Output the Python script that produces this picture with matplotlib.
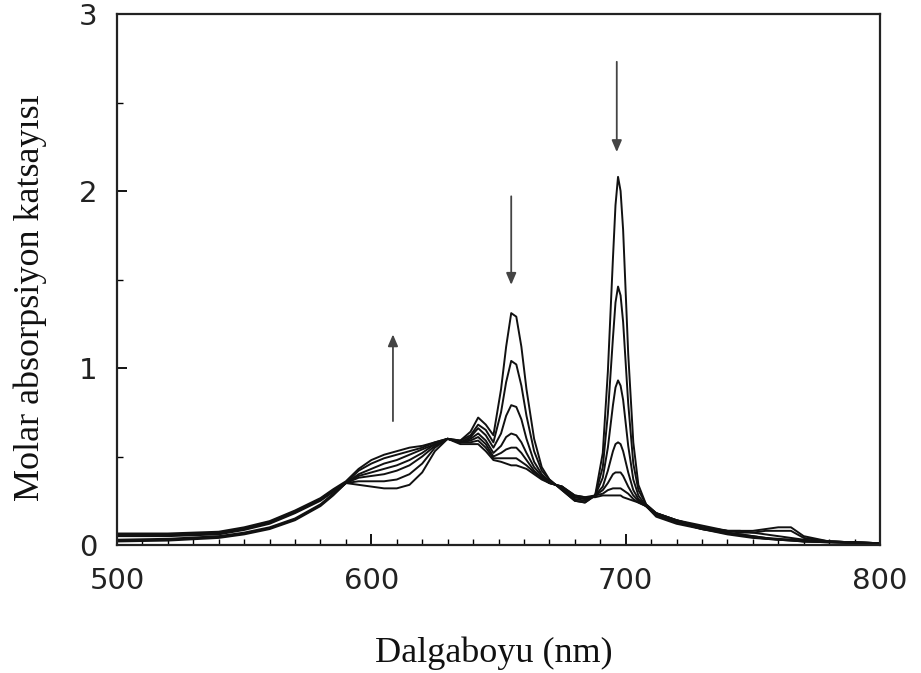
import matplotlib
matplotlib.use("Agg")
import matplotlib.pyplot as plt
from matplotlib.ticker import MultipleLocator

# ---------------- data ----------------
wavelength = [500, 520, 540, 550, 560, 570, 580, 585, 590, 595, 600, 605, 610, 615,
              620, 625, 630, 635, 639, 642, 645, 648, 651, 653, 655, 657, 659, 661,
              664, 667, 670, 675, 680, 684, 688, 691, 693, 695, 696, 697, 698, 699, 701, 703,
              705, 708, 712, 720, 730, 740, 745, 750, 755, 760, 765, 770, 780, 790, 800]

spectrum_1 = [0.02, 0.025, 0.04, 0.06, 0.09, 0.14, 0.22, 0.28, 0.35, 0.34, 0.33, 0.32, 0.32, 0.34,
              0.41, 0.53, 0.60, 0.59, 0.64, 0.72, 0.68, 0.62, 0.88, 1.12, 1.31, 1.29, 1.12, 0.88,
              0.60, 0.44, 0.37, 0.31, 0.25, 0.24, 0.28, 0.52, 0.98, 1.62, 1.92, 2.08, 2.00, 1.78, 1.08, 0.58,
              0.34, 0.23, 0.18, 0.14, 0.11, 0.08, 0.08, 0.08, 0.09, 0.10, 0.10, 0.05, 0.02, 0.015, 0.01]

spectrum_2 = [0.025, 0.03, 0.045, 0.065, 0.095, 0.145, 0.225, 0.285, 0.35, 0.36, 0.36, 0.36, 0.37, 0.40,
              0.46, 0.55, 0.60, 0.59, 0.62, 0.68, 0.65, 0.58, 0.75, 0.92, 1.04, 1.02, 0.90, 0.73,
              0.53, 0.42, 0.37, 0.31, 0.25, 0.24, 0.28, 0.44, 0.74, 1.17, 1.37, 1.46, 1.41, 1.26, 0.80, 0.46,
              0.31, 0.23, 0.18, 0.14, 0.10, 0.08, 0.07, 0.07, 0.08, 0.08, 0.08, 0.04, 0.02, 0.015, 0.01]

spectrum_3 = [0.03, 0.035, 0.05, 0.07, 0.10, 0.15, 0.23, 0.29, 0.35, 0.38, 0.39, 0.40, 0.42, 0.45,
              0.50, 0.56, 0.60, 0.58, 0.61, 0.66, 0.62, 0.55, 0.63, 0.73, 0.79, 0.78, 0.71, 0.60,
              0.47, 0.40, 0.36, 0.32, 0.26, 0.25, 0.28, 0.38, 0.55, 0.79, 0.89, 0.93, 0.90, 0.82, 0.56, 0.37,
              0.28, 0.22, 0.18, 0.14, 0.10, 0.08, 0.08, 0.07, 0.06, 0.05, 0.04, 0.03, 0.02, 0.015, 0.01]

spectrum_4 = [0.05, 0.05, 0.06, 0.085, 0.12, 0.18, 0.25, 0.30, 0.35, 0.39, 0.41, 0.43, 0.45, 0.48,
              0.52, 0.57, 0.60, 0.58, 0.60, 0.63, 0.59, 0.52, 0.56, 0.61, 0.63, 0.62, 0.58, 0.52,
              0.44, 0.39, 0.36, 0.32, 0.27, 0.26, 0.28, 0.33, 0.42, 0.53, 0.57, 0.58, 0.57, 0.53, 0.41, 0.31,
              0.26, 0.22, 0.17, 0.13, 0.10, 0.07, 0.06, 0.05, 0.04, 0.035, 0.03, 0.025, 0.02, 0.015, 0.01]

spectrum_5 = [0.055, 0.055, 0.065, 0.09, 0.125, 0.185, 0.255, 0.305, 0.35, 0.40, 0.43, 0.46, 0.48, 0.51,
              0.54, 0.57, 0.60, 0.58, 0.59, 0.61, 0.57, 0.50, 0.52, 0.54, 0.55, 0.55, 0.52, 0.48,
              0.42, 0.38, 0.35, 0.33, 0.27, 0.26, 0.28, 0.31, 0.35, 0.40, 0.41, 0.41, 0.41, 0.39, 0.33, 0.28,
              0.25, 0.22, 0.17, 0.13, 0.09, 0.07, 0.06, 0.05, 0.04, 0.03, 0.03, 0.02, 0.02, 0.015, 0.01]

spectrum_6 = [0.06, 0.06, 0.07, 0.095, 0.13, 0.19, 0.26, 0.31, 0.35, 0.42, 0.46, 0.49, 0.51, 0.53,
              0.55, 0.58, 0.60, 0.58, 0.58, 0.59, 0.55, 0.49, 0.49, 0.49, 0.49, 0.49, 0.47, 0.45,
              0.41, 0.38, 0.35, 0.33, 0.28, 0.27, 0.28, 0.29, 0.31, 0.32, 0.32, 0.32, 0.32, 0.31, 0.29, 0.26,
              0.24, 0.22, 0.17, 0.13, 0.09, 0.065, 0.055, 0.045, 0.035, 0.03, 0.025, 0.02, 0.015, 0.01, 0.01]

spectrum_7 = [0.065, 0.065, 0.075, 0.10, 0.135, 0.195, 0.265, 0.315, 0.36, 0.43, 0.48, 0.51, 0.53, 0.55,
              0.56, 0.58, 0.60, 0.57, 0.57, 0.57, 0.53, 0.48, 0.47, 0.46, 0.45, 0.45, 0.44, 0.43,
              0.40, 0.37, 0.35, 0.33, 0.28, 0.27, 0.27, 0.28, 0.28, 0.28, 0.28, 0.28, 0.28, 0.27, 0.26, 0.25,
              0.24, 0.22, 0.16, 0.12, 0.09, 0.06, 0.05, 0.04, 0.035, 0.03, 0.025, 0.02, 0.015, 0.01, 0.01]

spectra = [spectrum_1, spectrum_2, spectrum_3, spectrum_4, spectrum_5, spectrum_6, spectrum_7]

x_ticks = [500, 600, 700, 800]
x_tick_labels = ["500", "600", "700", "800"]
y_ticks = [0, 1, 2, 3]
y_tick_labels = ["0", "1", "2", "3"]

x_label = "Dalgaboyu (nm)"
y_label = "Molar absorpsiyon katsayısı"

# arrows: (x, y_tail, y_head)
arrows = [(608.5, 0.70, 1.19), (655.0, 1.97, 1.47), (696.5, 2.73, 2.22)]

# ---------------- figure ----------------
W, H = 921, 673
fig = plt.figure(figsize=(W / 100, H / 100), dpi=100)
ax = fig.add_axes([117 / W, (H - 545) / H, (880 - 117) / W, (545 - 14) / H])

for s in spectra:
    ax.plot(wavelength, s, color="#111111", lw=1.4, solid_joinstyle="round")

for (xa, y0, y1) in arrows:
    ax.annotate("", xy=(xa, y1), xytext=(xa, y0),
                arrowprops=dict(arrowstyle="-|>,head_length=0.7,head_width=0.3",
                                color="#444444", lw=1.3, shrinkA=0, shrinkB=0))

ax.set_xlim(500, 800)
ax.set_ylim(0, 3)
ax.set_xticks(x_ticks)
ax.set_xticklabels(x_tick_labels)
ax.set_yticks(y_ticks)
ax.set_yticklabels(y_tick_labels)
ax.xaxis.set_minor_locator(MultipleLocator(10))
ax.yaxis.set_minor_locator(MultipleLocator(0.5))

ax.tick_params(axis="x", which="major", direction="in", length=8, width=1.3, pad=16)
ax.tick_params(axis="x", which="minor", direction="in", length=4, width=1.0)
ax.tick_params(axis="y", which="major", direction="in", length=7, width=1.3, pad=14)
ax.tick_params(axis="y", which="minor", direction="in", length=4, width=1.0)
for lab in ax.get_xticklabels() + ax.get_yticklabels():
    lab.set_fontfamily("DejaVu Sans")
    lab.set_fontsize(21)
    lab.set_color("#222222")

for sp in ax.spines.values():
    sp.set_linewidth(1.6)
    sp.set_color("#222222")

fig.text(494 / W, 1 - 653 / H, x_label, ha="center", va="center",
         family="Liberation Serif", fontsize=26, color="#111111")
fig.text(30 / W, 1 - 298 / H, y_label, ha="center", va="center", rotation=90,
         family="Liberation Serif", fontsize=26, color="#111111")

fig.savefig("out.png", dpi=100)
